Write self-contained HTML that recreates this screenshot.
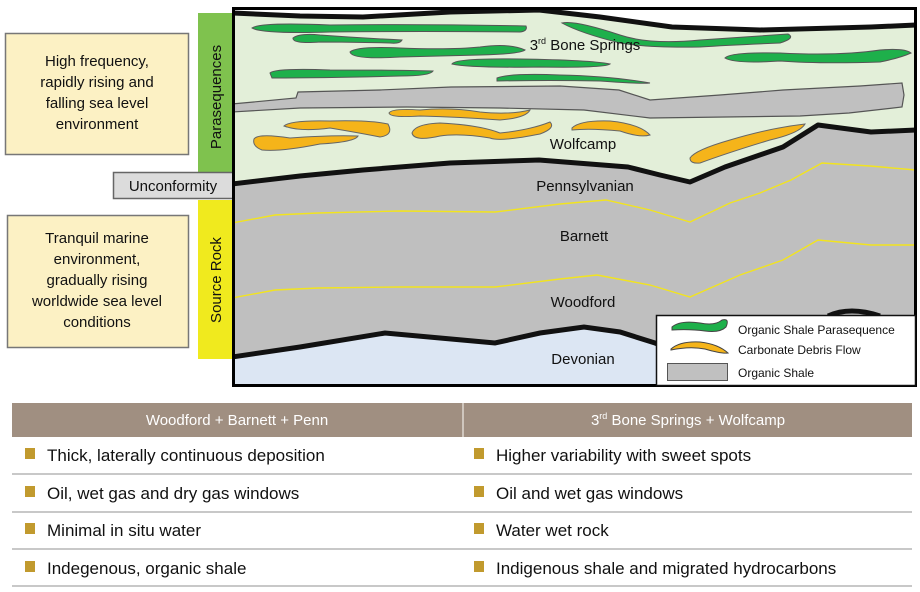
<!DOCTYPE html>
<html><head><meta charset="utf-8"><style>
body{margin:0;background:#fff;width:920px;height:592px;overflow:hidden;font-family:"Liberation Sans",sans-serif}
svg{position:absolute;left:0;top:0}
</style></head><body>
<svg width="920" height="592" viewBox="0 0 920 592" xmlns="http://www.w3.org/2000/svg" font-family="Liberation Sans, sans-serif">
<!-- left boxes -->
<rect x="5.5" y="33.5" width="183" height="121" fill="#fcf1c4" stroke="#777" stroke-width="1.5"/>
<text font-size="15" text-anchor="middle" fill="#111"><tspan x="97" y="66">High frequency,</tspan><tspan x="97" y="87">rapidly rising and</tspan><tspan x="97" y="108">falling sea level</tspan><tspan x="97" y="129">environment</tspan></text>
<rect x="7.5" y="215.5" width="181" height="132" fill="#fcf1c4" stroke="#777" stroke-width="1.5"/>
<text font-size="15" text-anchor="middle" fill="#111"><tspan x="97" y="243">Tranquil marine</tspan><tspan x="97" y="264">environment,</tspan><tspan x="97" y="285">gradually rising</tspan><tspan x="97" y="306">worldwide sea level</tspan><tspan x="97" y="327">conditions</tspan></text>
<rect x="198" y="13" width="34" height="169" fill="#7fc24e"/>
<text transform="translate(221,97) rotate(-90)" font-size="15" text-anchor="middle" fill="#111">Parasequences</text>
<rect x="198" y="200" width="34" height="159" fill="#f0ea1e"/>
<text transform="translate(221,280) rotate(-90)" font-size="15" text-anchor="middle" fill="#111">Source Rock</text>
<rect x="113.5" y="172.5" width="120" height="26" fill="#dcdcdc" stroke="#666" stroke-width="1.5"/>
<text x="173" y="191" font-size="15" text-anchor="middle" fill="#111">Unconformity</text>

<!-- main diagram -->
<clipPath id="c"><rect x="233" y="9" width="683" height="377"/></clipPath>
<g clip-path="url(#c)">
<rect x="233" y="9" width="683" height="377" fill="#bfbfbf"/>
<path d="M232,0 H916 V130 L871,132 L818,125 L783,147 L725,167 L690,182 L628,167 L539,160 L363,170 L232,184 Z" fill="#e3efd9"/>
<path d="M232,0 H916 V25 L871,27 L760,30 L672,27 L539,10 L363,17 L232,13 Z" fill="#fff"/>
<path d="M232,13 L300,16 L363,17 L450,12 L539,10 L600,17 L672,27 L760,30 L871,27 L916,25" fill="none" stroke="#111" stroke-width="5"/>
<g fill="#1eb04b" stroke="#555" stroke-width="1">
<path d="M252,28 Q260,22 330,25 Q430,24 526,26 Q528,31 520,32 Q420,31 330,32 Q262,34 252,28 Z"/>
<path d="M293,38 Q300,33 320,35 Q360,38 402,40 Q400,44 390,43 Q350,42 320,42 Q292,44 293,38 Z"/>
<path d="M350,52 Q356,46 400,48 Q450,50 480,47 Q510,43 525,50 Q520,54 480,55 Q440,56 400,57 Q352,60 350,52 Z"/>
<path d="M452,64 Q455,58 520,59 Q590,60 610,64 Q605,68 540,67 Q470,68 452,64 Z"/>
<path d="M270,73 Q275,68 330,70 Q400,70 433,71 Q430,76 400,76 Q330,78 272,78 Z"/>
<path d="M497,78 Q510,73 560,75 Q610,76 650,83 Q640,84 600,81 Q550,80 497,81 Z"/>
<path d="M562,23 Q575,20 620,35 Q650,45 700,40 Q760,36 788,34 Q796,38 780,43 Q730,45 700,47 Q650,48 620,43 Q580,33 562,23 Z"/>
<path d="M725,58 Q730,52 780,53 Q840,56 880,50 Q905,48 911,53 Q900,58 880,62 Q820,64 780,61 Q735,64 725,58 Z"/>
</g>
<path d="M232,104 L296,98 L298,92 L380,90 L451,87 L560,86 L619,90 L650,100 L720,95 L783,90 L860,86 L902,83 L904,95 L902,107 L849,113 L800,116 L650,118 L584,110 L500,108 L407,107 L300,108 L232,112 Z" fill="#c0c0c0" stroke="#555" stroke-width="1.2"/>
<g fill="#f5b41a" stroke="#666" stroke-width="1">
<path d="M389,113 Q392,108 420,110 Q450,107 480,112 Q510,115 530,110 Q526,118 500,120 Q460,117 420,116 Q390,118 389,113 Z"/>
<path d="M284,126 Q290,120 330,121 Q370,120 388,124 Q394,135 380,137 Q360,133 330,128 Q300,132 284,126 Z"/>
<path d="M254,139 Q258,133 290,138 Q330,135 358,136 Q355,142 320,144 Q280,152 262,150 Q252,146 254,139 Z"/>
<path d="M412,133 Q415,124 440,123 Q480,125 500,133 Q530,130 550,122 Q556,128 540,134 Q500,142 490,138 Q460,133 440,136 Q414,142 412,133 Z"/>
<path d="M572,128 Q580,120 610,121 Q640,124 650,135 Q640,138 620,131 Q590,128 572,130 Z"/>
<path d="M690,158 Q695,150 730,140 Q770,128 805,124 Q800,133 770,140 Q730,152 700,163 Q690,164 690,158 Z"/>
</g>
<path d="M232,184 L300,176 L363,170 L450,163 L539,160 L628,167 L660,175 L690,182 L725,167 L783,147 L818,125 L871,132 L916,130" fill="none" stroke="#111" stroke-width="5" stroke-linejoin="round"/>
<path d="M232,223 L275,215 L318,213 L400,211 L495,212 L560,204 L606,200 L650,210 L690,222 L730,203 L760,193 L791,180 L822,163 L870,166 L916,170" fill="none" stroke="#f2e41e" stroke-width="1.4"/>
<path d="M232,298 L275,290 L318,288 L400,287 L495,287 L560,279 L597,275 L650,285 L690,297 L740,275 L783,260 L818,240 L871,245 L916,245" fill="none" stroke="#f2e41e" stroke-width="1.4"/>
<path d="M232,357 L300,347 L385,333 L440,338 L495,343 L540,333 L584,327 L620,332 L655,343 L700,355 L700,390 L232,390 Z" fill="#dce6f3"/>
<path d="M232,357 L300,347 L385,333 L440,338 L495,343 L540,333 L584,327 L620,332 L655,343 L700,360" fill="none" stroke="#111" stroke-width="5"/>
<path d="M828,316 Q850,306 880,316" fill="none" stroke="#111" stroke-width="5"/>
</g>
<rect x="233.5" y="8.5" width="682" height="377" fill="none" stroke="#000" stroke-width="3"/>
<g font-size="15" fill="#111" text-anchor="middle">
<text x="585" y="50">3<tspan font-size="9" dy="-6">rd</tspan><tspan dy="6"> Bone Springs</tspan></text>
<text x="583" y="149">Wolfcamp</text>
<text x="585" y="191">Pennsylvanian</text>
<text x="584" y="241">Barnett</text>
<text x="583" y="307">Woodford</text>
<text x="583" y="364">Devonian</text>
</g>
<rect x="656.5" y="315.5" width="259" height="70" fill="#fff" stroke="#111" stroke-width="1.5"/>
<path d="M672,327 Q680,320 700,323 Q715,326 722,320 Q730,318 726,327 Q720,333 705,331 Q690,329 672,330 Z" fill="#1eb04b" stroke="#444" stroke-width="1"/>
<path d="M671,349 Q680,341 700,342 Q718,344 728,353 Q722,354 705,349 Q690,346 671,350 Z" fill="#f5b41a" stroke="#444" stroke-width="1"/>
<rect x="667.5" y="363.5" width="60" height="17" fill="#c0c0c0" stroke="#555" stroke-width="1"/>
<g font-size="12" fill="#111"><text x="738" y="334">Organic Shale Parasequence</text><text x="738" y="354">Carbonate Debris Flow</text><text x="738" y="377">Organic Shale</text></g>

<rect x="12" y="403" width="900" height="34" fill="#a08f81"/>
<rect x="462" y="403" width="2" height="34" fill="#cfc6bd"/>
<g font-size="15" fill="#fff" text-anchor="middle"><text x="237" y="425">Woodford + Barnett + Penn</text><text x="688" y="425">3<tspan font-size="9" dy="-6">rd</tspan><tspan dy="6"> Bone Springs + Wolfcamp</tspan></text></g>
<g fill="#c8c8c8"><rect x="12" y="473" width="900" height="2"/><rect x="12" y="511" width="900" height="2"/><rect x="12" y="548" width="900" height="2"/><rect x="12" y="585" width="900" height="2"/></g>
<g fill="#c19a2e"><rect x="25" y="448" width="10" height="11"/><rect x="25" y="486" width="10" height="11"/><rect x="25" y="523" width="10" height="11"/><rect x="25" y="561" width="10" height="11"/>
<rect x="474" y="448" width="10" height="11"/><rect x="474" y="486" width="10" height="11"/><rect x="474" y="523" width="10" height="11"/><rect x="474" y="561" width="10" height="11"/></g>
<g font-size="17" fill="#111"><text x="47" y="461">Thick, laterally continuous deposition</text><text x="47" y="499">Oil, wet gas and dry gas windows</text><text x="47" y="536">Minimal in situ water</text><text x="47" y="574">Indegenous, organic shale</text>
<text x="496" y="461">Higher variability with sweet spots</text><text x="496" y="499">Oil and wet gas windows</text><text x="496" y="536">Water wet rock</text><text x="496" y="574">Indigenous shale and migrated hydrocarbons</text></g>
</svg>
</body></html>
